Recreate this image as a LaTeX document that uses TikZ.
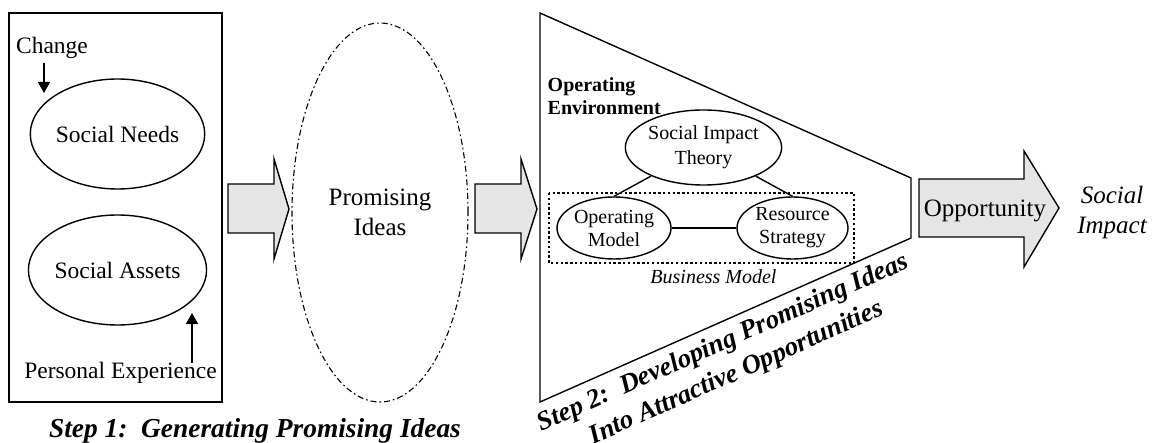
\documentclass[tikz,border=0pt]{standalone}
\usepackage{fontspec}
\setmainfont{Liberation Serif}
\usetikzlibrary{shapes.geometric,arrows.meta}
\begin{document}
\begin{tikzpicture}[x=0.5pt,y=-0.5pt,
  line width=0.7pt,
  oval/.style={draw, ellipse, inner sep=0pt, align=center},
  blockarrow/.style={draw, fill=black!10, line join=miter},
  pointer/.style={-{Triangle[length=5.5pt,width=6pt]}},
  lbl/.style={inner sep=0pt, align=center},
  big/.style={font=\fontsize{11.75}{14}\selectfont},
  mid/.style={font=\fontsize{12.5}{15}\selectfont},
  small/.style={font=\fontsize{10}{12.5}\selectfont},
  steptxt/.style={font=\fontsize{13.4}{16.5}\selectfont\bfseries\itshape}]
\useasboundingbox (0,0) rectangle (1157,443);
\fill[white] (0,0) rectangle (1157,443);

% Step 1 box
\draw (9,13) rectangle (222,402);
\node[lbl, big] (change) at (52,48) {Change};
\node[oval, big, minimum width=71.5pt, minimum height=55pt] (sn) at (117.5,134) {Social Needs};
\node[oval, big, minimum width=71.5pt, minimum height=55pt] (sa) at (117.5,270) {Social Assets};
\node[lbl, big] (pe) at (120.5,373) {Personal Experience};
\coordinate (c1) at (44,63);
\coordinate (c2) at (44,93);
\coordinate (p1) at (192,363);
\coordinate (p2) at (192,313);
\draw[pointer] (c1) -- (c2);
\draw[pointer] (p1) -- (p2);
\node[lbl, font=\fontsize{13.7}{16}\selectfont\bfseries\itshape] (step1) at (255,431) {Step 1:\ \ Generating Promising Ideas};

% arrow 1
\draw[blockarrow] (228,184) -- (274,184) -- (274,159) -- (289,209) -- (274,259) -- (274,233) -- (228,233) -- cycle;

% promising ideas
\node[oval, mid, minimum width=88pt, minimum height=189.5pt,
  dash pattern=on 3pt off 1.5pt on 0.8pt off 1.5pt, line width=0.55pt] (pi) at (380,212.5) {Promising\\Ideas};

% arrow 2
\draw[blockarrow] (475,184) -- (521,184) -- (521,159) -- (537,209) -- (521,259) -- (521,233) -- (475,233) -- cycle;

% funnel
\draw[line join=miter] (540,13) -- (911,178) -- (911,238) -- (540,402) -- cycle;
\node[lbl, anchor=west, align=left, font=\fontsize{10}{11.5}\selectfont\bfseries] (env) at (547,96.5) {Operating\\Environment};

\draw[dash pattern=on 1.2pt off 1.2pt, line width=0.6pt] (549,193) rectangle (854,263);
\node[oval, small, minimum width=67.5pt, minimum height=37.5pt] (sit) at (703.5,147.5) {Social Impact\\Theory};
\node[oval, font=\fontsize{10}{11.5}\selectfont, minimum width=57pt, minimum height=31pt] (om) at (614,228) {Operating\\Model};
\node[oval, font=\fontsize{10}{11.5}\selectfont, minimum width=55.5pt, minimum height=31pt] (rs) at (792.5,228) {Resource\\Strategy};
\draw (sit) -- (om.north);
\draw (sit) -- (rs.north);
\draw (om) -- (rs);
\node[lbl, font=\fontsize{10}{12}\selectfont\itshape] (bm) at (713.5,277) {Business Model};

\node[lbl, steptxt, rotate=24] (step2) at (730,358.5) {Step 2:\ \ Developing Promising Ideas\\Into Attractive Opportunities};

% opportunity arrow
\draw[blockarrow] (919,179) -- (1024,179) -- (1024,151) -- (1059,208) -- (1024,267) -- (1024,237) -- (919,237) -- cycle;
\node[lbl, mid] (opp) at (985,211) {Opportunity};
\node[lbl, font=\fontsize{12.5}{15}\selectfont\itshape] (si) at (1112,212) {Social\\Impact};
\end{tikzpicture}
\end{document}
